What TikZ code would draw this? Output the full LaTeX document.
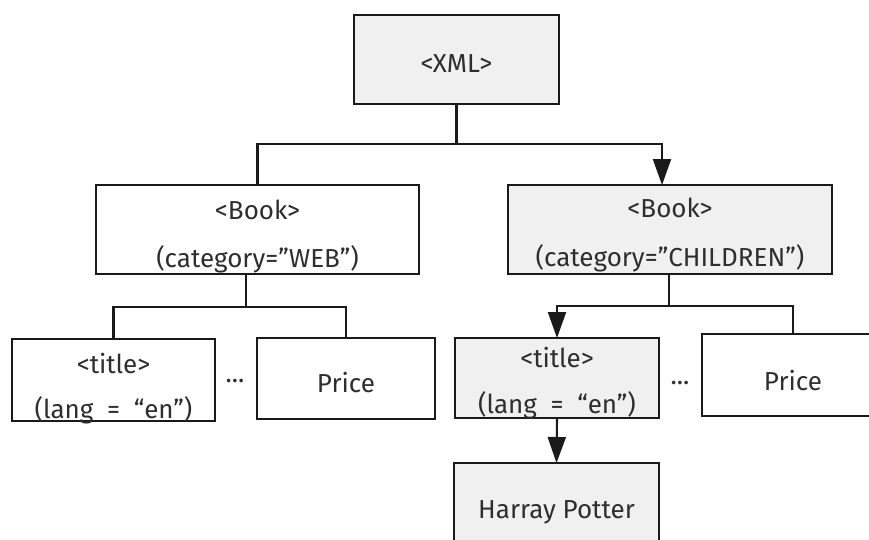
\documentclass[tikz,border=0pt]{standalone}
\usepackage{fontspec}
\setmainfont{Fira Sans}
\usetikzlibrary{arrows.meta}
\definecolor{boxgray}{HTML}{F0F0F0}
\definecolor{ink}{HTML}{1A1A1A}
\definecolor{textink}{HTML}{2E2E2E}
\begin{document}
\begin{tikzpicture}[x=1pt,y=-1pt,
  box/.style={draw=ink, fill=white, line width=2.1pt, rectangle, inner sep=0pt, outer sep=0pt, anchor=north west},
  hl/.style={box, fill=boxgray},
  txt/.style={anchor=base, inner sep=0pt, text=textink, font=\fontsize{26}{30}\selectfont},
  conn/.style={draw=ink, line width=2.1pt},
  arr/.style={conn, -{Triangle[length=26pt,width=18pt]}}
]
\useasboundingbox (0,0) rectangle (869,539);
\fill[white] (0,0) rectangle (869,539);
\clip (0,0) rectangle (869,539);

% element boxes
\node[hl,  minimum width=205, minimum height=89] (xml)    at (354,15)  {};
\node[box, minimum width=323, minimum height=89] (book1)  at (96,185)  {};
\node[hl,  minimum width=324, minimum height=89] (book2)  at (508,185) {};
\node[box, minimum width=203, minimum height=82] (title1) at (12,339)  {};
\node[box, minimum width=178, minimum height=81] (price1) at (257,338) {};
\node[hl,  minimum width=204, minimum height=80] (title2) at (455,338) {};
\node[box, minimum width=182, minimum height=82] (price2) at (702,334) {};
\node[hl,  minimum width=205, minimum height=100] (harry) at (454,463) {};

% tree connectors
\coordinate (j0) at (456.5,144);
\draw[conn] (xml.south) -- (j0);
\draw[conn] (j0) -| (book1.north);
\draw[arr] (j0) -| ([xshift=-8pt]book2.north);

\coordinate (j1) at (246,307);
\draw[conn] (book1.south -| j1) -- (j1);
\draw[conn] (title1.north) |- (j1) -| (price1.north);

\coordinate (j2) at (669,306);
\draw[conn] (book2.south -| j2) -- (j2);
\draw[conn] (j2) -| (price2.north);
\draw[arr] (j2) -| (title2.north);
\draw[arr] (title2.south) -- (harry.north);

% labels
\node[txt] (xmlt)    at (456.5,72) {<XML>};
\node[txt] (book1a)  at (257.5,219) {<Book>};
\node[txt] (book1b)  at (257.5,267) {(category=”WEB”)};
\node[txt] (book2a)  at (670,217) {<Book>};
\node[txt] (book2b)  at (670,266) {(category=”CHILDREN”)};
\node[txt] (title1a) at (113.5,373) {<title>};
\node[txt] (title1b) at (113.5,418) {(lang\ \ =\ \ “en”)};
\node[txt] (price1t) at (346,392) {Price};
\node[txt] (title2a) at (557,367) {<title>};
\node[txt] (title2b) at (557,413) {(lang\ \ =\ \ “en”)};
\node[txt] (price2t) at (793,390) {Price};
\node[txt] (harryt)  at (556.5,518) {Harray Potter};
\node[txt] (dots1)   at (235,382) {...};
\node[txt] (dots2)   at (680,384) {...};
\end{tikzpicture}
\end{document}
